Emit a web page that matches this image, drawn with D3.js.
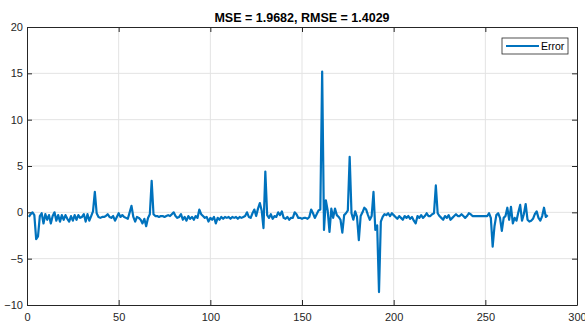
<!DOCTYPE html>
<html>
<head>
<meta charset="utf-8">
<script src="https://cdn.jsdelivr.net/npm/d3@7"></script>
<style>
  body { margin: 0; background: #fff; }
  text { font-family: "Liberation Sans", Arial, sans-serif; }
</style>
</head>
<body>
<script>
var svgWidth = 585;
var svgHeight = 325;

var margin = { top: 27, right: 8, bottom: 20, left: 27 };
var width = svgWidth - margin.left - margin.right;
var height = svgHeight - margin.top - margin.bottom;

var titleText = "MSE = 1.9682, RMSE = 1.4029";
var seriesName = "Error";
var xTicks = [0, 50, 100, 150, 200, 250, 300];
var yTicks = [-10, -5, 0, 5, 10, 15, 20];

// error values for samples 1..284
var errorValues = [
  -0.5, -0.2, 0.0, -0.3, -2.9, -2.6, -0.4, -0.1, -1.2, -0.2,
  -0.8, -0.3, -1.2, -0.4, 0.0, -0.9, -0.3, -1.0, -0.3, -0.8,
  -0.3, -0.7, -1.0, -0.4, -0.9, -0.3, -0.8, -0.3, -0.6, -0.5,
  -0.2, -1.0, -0.2, -0.9, -0.4, 0.1, 2.2, -0.1, -0.5, -0.6,
  -0.5, -0.5, -0.4, -0.2, -0.5, -0.6, -0.4, -0.9, -0.5, -0.1,
  -0.5, -0.3, -0.5, -0.6, -0.7, 0.0, 0.7, -0.5, -1.0, -0.5,
  -0.6, -0.8, -1.2, -0.7, -1.5, -0.6, -0.2, 3.4, -0.2, -0.4,
  -0.4, -0.5, -0.4, -0.4, -0.5, -0.4, -0.3, -0.4, -0.2, 0.0,
  -0.4, -0.6, -0.5, -0.2, -0.8, -0.5, -0.9, -0.4, -0.7, -0.5,
  -0.8, -0.4, -0.6, 0.3, -0.2, -0.4, -0.6, -0.5, -1.0, -0.6,
  -0.8, -0.5, -1.2, -0.6, -0.8, -0.5, -0.7, -0.5, -0.6, -0.5,
  -0.7, -0.5, -0.6, -0.5, -0.7, -0.5, -0.6, -0.5, -0.4, 0.0,
  -0.5, -0.6, -0.1, 0.3, -0.4, 0.4, 1.0, 0.2, -1.7, 4.4,
  -0.3, -0.6, -0.2, -0.7, -0.4, -0.5, 0.0, -0.3, 0.1, -0.6,
  -0.7, -0.5, -0.8, -0.6, -0.6, 0.0, -0.2, -0.6, -0.6, -0.7,
  -0.6, -0.6, -0.7, -0.5, 0.3, -0.1, -0.6, -0.2, 0.2, 0.3,
  15.2, -1.9, 1.3, 0.2, -2.1, 0.4, -0.6, 0.4, -0.3, -0.5,
  -0.8, -2.2, -0.3, -0.1, 0.2, 6.0, -0.1, -0.8, 0.1, -0.5,
  -3.0, -0.4, 0.0, 0.5, 0.3, -0.3, -0.8, -0.4, 2.2, -1.9,
  -1.4, -8.6, -1.0, -0.5, -0.2, -0.3, -0.1, -0.4, -0.1, -0.3,
  -0.5, -0.7, -0.4, -0.6, -0.8, -0.4, -0.6, -0.4, -0.7, -0.5,
  -0.9, -1.2, -0.4, -0.6, -0.3, -0.6, -0.4, -0.1, -0.4, -0.4,
  -0.2, -0.1, 2.9, -0.1, -0.4, -0.6, -0.8, -0.4, -0.6, -0.3,
  -0.8, -0.6, -0.4, -0.2, -0.4, -0.4, -0.2, -0.4, -0.6, -0.4,
  -0.1, -0.2, -0.4, -0.4, -0.4, -0.4, -0.4, -0.4, -0.4, -0.4,
  -0.4, -0.1, -0.6, -3.7, -1.5, -0.3, -0.1, -0.6, -2.0, -0.6,
  -0.4, 0.5, -0.8, 0.6, -1.2, -0.6, -0.9, 0.0, 0.8, -0.9,
  -0.2, 0.9, -0.8, -1.0, -0.9, -0.7, -0.2, 0.1, -0.6, -0.9,
  -0.4, 0.5, -0.5, -0.3
];

var data = errorValues.map((v, i) => ({ x: i + 1, y: v }));

var svg = d3.select("body")
            .append("svg")
            .attr("width", svgWidth)
            .attr("height", svgHeight);

var chartGroup = svg.append("g")
                .attr("transform", `translate(${margin.left}, ${margin.top})`);

var xScale = d3.scaleLinear().domain([0, 300]).range([0, width]);
var yScale = d3.scaleLinear().domain([-10, 20]).range([height, 0]);

// grid
chartGroup.append("g")
    .selectAll("line")
    .data(xTicks.slice(1, -1))
    .join("line")
    .attr("x1", d => xScale(d)).attr("x2", d => xScale(d))
    .attr("y1", 0).attr("y2", height)
    .attr("stroke", "#e3e3e3").attr("stroke-width", 1);

chartGroup.append("g")
    .selectAll("line")
    .data(yTicks.slice(1, -1))
    .join("line")
    .attr("x1", 0).attr("x2", width)
    .attr("y1", d => yScale(d)).attr("y2", d => yScale(d))
    .attr("stroke", "#e3e3e3").attr("stroke-width", 1);

// axes, ticks pointing inward like matlab
var axisColor = "#262626";
function styleAxis(g) {
    g.select(".domain").attr("stroke", axisColor);
    g.selectAll(".tick line").attr("stroke", axisColor);
    g.selectAll(".tick text").attr("fill", axisColor).style("font-size", "11px");
}

chartGroup.append("g")
    .attr("transform", `translate(0, ${height})`)
    .call(d3.axisBottom(xScale).tickValues(xTicks).tickSizeInner(-5).tickSizeOuter(0).tickPadding(8))
    .call(styleAxis);

chartGroup.append("g")
    .call(d3.axisLeft(yScale).tickValues(yTicks).tickSizeInner(-5).tickSizeOuter(0).tickPadding(4))
    .call(styleAxis);

chartGroup.append("g")
    .call(d3.axisTop(xScale).tickValues(xTicks).tickSizeInner(-5).tickSizeOuter(0).tickFormat(""))
    .call(styleAxis);

chartGroup.append("g")
    .attr("transform", `translate(${width}, 0)`)
    .call(d3.axisRight(yScale).tickValues(yTicks).tickSizeInner(-5).tickSizeOuter(0).tickFormat(""))
    .call(styleAxis);

// series
var line = d3.line()
    .x(d => xScale(d.x))
    .y(d => yScale(d.y));

chartGroup.append("path")
    .datum(data)
    .attr("d", line)
    .attr("fill", "none")
    .attr("stroke", "#0072BD")
    .attr("stroke-width", 2.2)
    .attr("stroke-linejoin", "round");

// title
svg.append("text")
    .attr("x", margin.left + width / 2)
    .attr("y", 22)
    .attr("text-anchor", "middle")
    .style("font-size", "12.5px")
    .style("font-weight", "bold")
    .attr("fill", "#000")
    .text(titleText);

// legend
var legend = svg.append("g").attr("transform", "translate(502, 38)");
legend.append("rect")
    .attr("width", 66).attr("height", 16)
    .attr("fill", "#fff").attr("stroke", axisColor).attr("stroke-width", 0.8);
legend.append("line")
    .attr("x1", 4).attr("x2", 37).attr("y1", 8).attr("y2", 8)
    .attr("stroke", "#0072BD").attr("stroke-width", 2.2);
legend.append("text")
    .attr("x", 39).attr("y", 12)
    .style("font-size", "10.5px")
    .attr("fill", "#000")
    .text(seriesName);
</script>
</body>
</html>
